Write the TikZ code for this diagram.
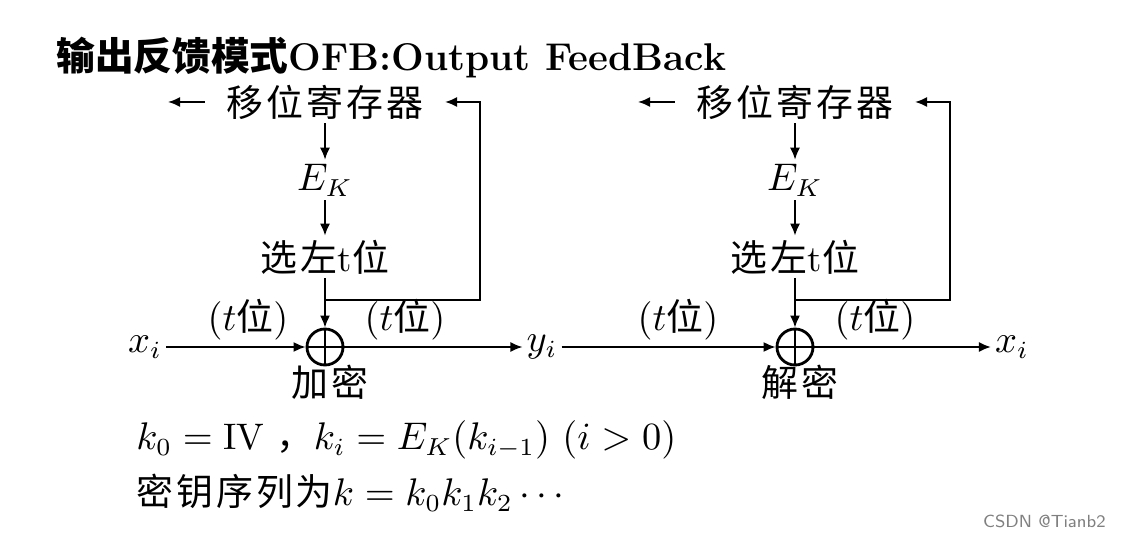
\documentclass[tikz,border=0pt]{standalone}
\usepackage{fontspec}
\usepackage{amsmath}
\usetikzlibrary{arrows.meta,positioning,calc}
\newfontfamily\cjk{Noto Sans CJK SC}
\newfontfamily\cjksp[LetterSpace=8]{Noto Sans CJK SC}

\begin{document}
\begin{tikzpicture}[
  x=0.01cm, y=-0.01cm,
  font=\fontsize{10.5}{12}\selectfont,
  lb/.style={inner sep=1pt},
  sreg/.style={inner ysep=1pt, inner xsep=6pt},
  xo/.style={draw, circle, line width=0.8pt, minimum size=3.6mm, inner sep=0pt},
  ar/.style={-{Latex[length=1.2mm,width=1mm]}, line width=0.5pt},
  ln/.style={line width=0.5pt}
]
\useasboundingbox (0,0) rectangle (1125,537);
\node[anchor=west, font=\fontsize{11}{13}\selectfont\bfseries] (title) at (44,58)
  {{\cjk 输出反馈模式}OFB:Output FeedBack};
\foreach \s/\o/\op in {a/0/加密, b/470/解密} {
  \node[sreg] (sr\s) at (325+\o,102) {\cjksp 移位寄存器};
  \node[lb] (ek\s) at (325+\o,180) {$E_K$};
  \node[lb] (sel\s) at (325+\o,257) {{\cjksp 选左}t{\cjksp 位}};
  \node[xo] (p\s) at (325+\o,347) {};
  \draw[line width=0.8pt] (p\s.north) -- (p\s.south) (p\s.west) -- (p\s.east);
  \node[lb] (op\s) at (330+\o,382) {\cjksp \op};
  \coordinate (lo\s) at (168+\o,102);
  \coordinate (j\s) at (325+\o,300);
  \coordinate (fb\s) at (480+\o,300);
  \draw[ar] (sr\s.west) -- (lo\s);
  \draw[ar] (sr\s) -- (ek\s);
  \draw[ar] (ek\s) -- (sel\s);
  \draw[ar] (sel\s) -- (p\s);
  \draw[ar] (j\s) -- (fb\s) |- (sr\s.east);
}
\node[lb] (xin) at (145,347) {$x_i$};
\node[lb] (yi) at (542,347) {$y_i$};
\node[lb] (xout) at (1012,347) {$x_i$};
\draw[ar] (xin) -- (pa);
\draw[ar] (pa) -- (yi);
\draw[ar] (yi) -- (pb);
\draw[ar] (pb) -- (xout);
\foreach \n/\x in {ta/248, tb/405, tc/678, td/875}
  \node[lb] (\n) at (\x,320) {$(t${\cjk 位}$)$};
\node[anchor=west, font=\fontsize{10.5}{13}\selectfont] (kdef) at (124,440)
  {$k_0=\mathrm{IV}$ {\cjk ，}$k_i=E_K(k_{i-1})$ $(i>0)$};
\node[anchor=west, font=\fontsize{10.5}{13}\selectfont] (kseq) at (124,493)
  {{\cjksp 密钥序列为}$k=k_0k_1k_2\cdots$};
\node[anchor=east, font=\sffamily\fontsize{5}{6}\selectfont, text=gray] (wm) at (1118,521) {CSDN @Tianb2};
\end{tikzpicture}
\end{document}
